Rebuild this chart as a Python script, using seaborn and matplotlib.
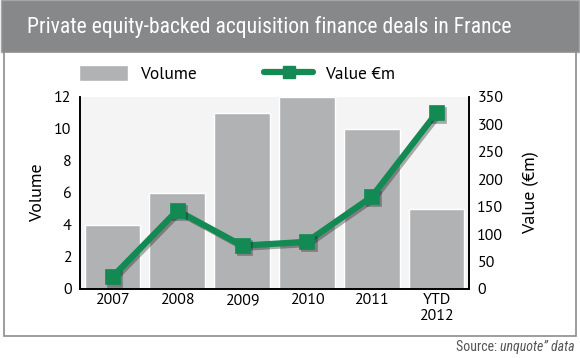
import matplotlib
matplotlib.use("Agg")
import matplotlib.pyplot as plt
import matplotlib.patheffects as pe
from matplotlib.patches import Rectangle
from matplotlib.lines import Line2D
import seaborn as sns
import pandas as pd

years = ["2007", "2008", "2009", "2010", "2011", "YTD\n2012"]
volume = [4, 6, 11, 12, 10, 5]
value_m = [22, 143, 79, 86, 168, 321]

df = pd.DataFrame({"year": years, "volume": volume, "value": value_m})

sns.set_theme(style="white")
plt.rcParams["font.family"] = ["PT Sans", "DejaVu Sans"]
plt.rcParams.update({"text.color": "black", "axes.labelcolor": "black",
                     "xtick.color": "black", "ytick.color": "black"})

bar_col = "#b1b2b4"
green = "#138a53"
cond = ["Roboto Condensed", "DejaVu Sans"]

fig = plt.figure(figsize=(5.8, 3.58), dpi=100, facecolor="white")

# title band and white panel
fig.patches.append(Rectangle((0.002, 1 - 52 / 358), 0.996, 52 / 358, transform=fig.transFigure,
                             facecolor="#87888a", edgecolor="#a5a6a8", linewidth=1, zorder=-3))
fig.patches.append(Rectangle((4 / 580, 22 / 358), 572 / 580, 284 / 358,
                             transform=fig.transFigure, facecolor="white",
                             edgecolor="#8c8c8c", linewidth=1.2, zorder=-2))
fig.text(27 / 580, 1 - 27 / 358, "Private equity-backed acquisition finance deals in France",
         ha="left", va="center", color="white", fontsize=15.6, family=cond)

src_y = 1 - 347 / 358
t_it = fig.text(575 / 580, src_y, "unquote\u201d data", ha="right", va="center",
                color="#555555", fontsize=10, style="italic", family=cond)
r = fig.canvas.get_renderer()
bb = t_it.get_window_extent(r)
fig.text(bb.x0 / fig.bbox.width, src_y, "Source: ", ha="right", va="center",
         color="#555555", fontsize=10, family=cond)

ax = fig.add_axes([80 / 580, 1 - 289 / 358, 389 / 580, 192 / 358])
ax.set_facecolor("#f4f4f4")
sns.barplot(data=df, x="year", y="volume", color=bar_col, width=0.86,
            saturation=1, ax=ax, zorder=1)
ax.set_ylim(0, 12)
ax.set_xlim(-0.5, 5.5)
ax.set_yticks(range(0, 13, 2))
ax.set_ylabel("Volume", fontsize=13)
ax.yaxis.set_label_coords((38 - 80) / 389, 0.5)
ax.yaxis.label.set_va("center")
ax.set_xlabel("")

ax2 = ax.twinx()
sns.pointplot(data=df, x="year", y="value", color=green, markers="s",
              linewidth=4.5, markersize=8, ax=ax2)
for ln in ax2.lines:
    ln.set_path_effects([pe.SimpleLineShadow(offset=(1.5, -1.5), alpha=0.35), pe.Normal()])
ax2.set_ylim(0, 350)
ax2.set_xlim(-0.5, 5.5)
ax2.set_yticks(range(0, 351, 50))
ax2.set_ylabel("Value (\u20acm)", fontsize=13, rotation=90)
ax2.yaxis.set_label_coords((531 - 80) / 389, 0.5)
ax2.yaxis.label.set_va("center")
ax2.set_xlabel("")

for a in (ax, ax2):
    for s in ("left", "right", "bottom"):
        a.spines[s].set_visible(True)
        a.spines[s].set_color("black")
        a.spines[s].set_linewidth(1.2)
    a.spines["top"].set_visible(False)
    a.tick_params(axis="y", length=0, labelsize=11.5, pad=6)
ax.tick_params(axis="x", length=0, labelsize=11.5, pad=3)
ax.set_xticks([0.5, 1.5, 2.5, 3.5, 4.5], minor=True)
ax.tick_params(axis="x", which="minor", direction="in", length=4, width=1, color="black")

handles = [Rectangle((0, 0), 1, 1, facecolor=bar_col),
           Line2D([], [], color=green, linewidth=4.5, marker="s", markersize=8)]
fig.legend(handles, ["Volume", "Value \u20acm"], loc="center left",
           bbox_to_anchor=(79 / 580, 1 - 74 / 358), ncol=2, frameon=False,
           fontsize=12.5, handlelength=2.8, handleheight=1.05, columnspacing=3.9,
           handletextpad=0.7, borderpad=0, borderaxespad=0)

fig.savefig("out.png", dpi=100)
